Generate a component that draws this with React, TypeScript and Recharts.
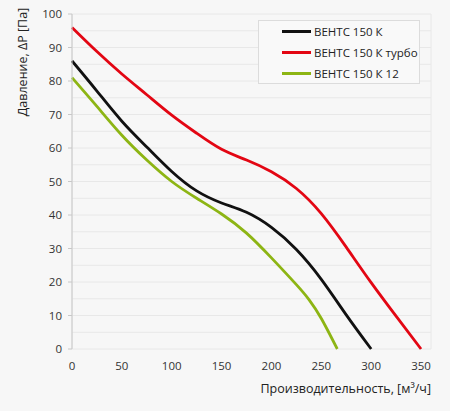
import React from 'react';
import { LineChart, Line, XAxis, YAxis, CartesianGrid, Legend } from 'recharts';

const blackQ = [0, 25, 50, 75, 100, 125, 150, 175, 200, 225, 250, 275, 300];
const blackP = [86, 77, 68, 60.3, 53, 47.2, 43.6, 40.8, 36.3, 29.7, 20.8, 10.2, 0];

const redQ = [0, 25, 50, 75, 100, 125, 150, 175, 200, 225, 250, 275, 300, 325, 350];
const redP = [96, 88.8, 82.1, 75.9, 69.8, 64.4, 59.6, 56.4, 52.9, 47.9, 40.4, 30.4, 19.8, 9.8, 0];

const greenQ = [0, 25, 50, 75, 100, 125, 150, 175, 200, 225, 238, 250, 266];
const greenP = [81, 72.4, 63.8, 56.4, 50, 45, 40.3, 34.6, 27.2, 19.2, 14.6, 9.1, 0];

const seriesNames = ['ВЕНТС 150 К', 'ВЕНТС 150 К турбо', 'ВЕНТС 150 К 12'];
const seriesColors = ['#111111', '#e30613', '#8db514'];

const X_MAX = 360;
const GRID_STEPS = 14;
const gridXTicks = Array.from({ length: GRID_STEPS + 1 }, (_, k) => (k * X_MAX) / GRID_STEPS);
const xLabels = [0, 50, 100, 150, 200, 250, 300, 350];
const yTicks = [0, 5, 10, 15, 20, 25, 30, 35, 40, 45, 50, 55, 60, 65, 70, 75, 80, 85, 90, 95, 100];
const yLabels = [0, 10, 20, 30, 40, 50, 60, 70, 80, 90, 100];

const xTitle = 'Производительность, [м³/ч]';
const yTitle = 'Давление, ΔP [Па]';

const toRows = (q: number[], p: number[]) => q.map((v, i) => ({ q: v, p: p[i] }));
const seriesData = [toRows(blackQ, blackP), toRows(redQ, redP), toRows(greenQ, greenP)];

const FONT = '"Open Sans", "Noto Sans", sans-serif';
const TICK_LEN = 4;
const Y_MARGIN = 6;
const AXIS_COLOR = '#c8c8c8';

const GridTick = (props: any) => {
  const { x, y, index } = props;
  if (index % 2 !== 0) return null;
  return <line x1={x} x2={x} y1={y} y2={y + TICK_LEN} stroke={AXIS_COLOR} />;
};

const XLabelTick = (props: any) => {
  const { x, y, payload } = props;
  return (
    <text x={x} y={y} dy="0.71em" textAnchor="middle" fontSize={11.5} fill="#333" fontFamily={FONT}>
      {payload.value}
    </text>
  );
};

const YTick = (props: any) => {
  const { x, y, payload } = props;
  if (!yLabels.includes(payload.value)) return null;
  const axisX = x + TICK_LEN + Y_MARGIN;
  return (
    <g>
      <line x1={axisX - TICK_LEN} x2={axisX} y1={y} y2={y} stroke={AXIS_COLOR} />
      <text x={x} y={y} dy="0.355em" textAnchor="end" fontSize={11.5} fill="#333" fontFamily={FONT}>
        {payload.value}
      </text>
    </g>
  );
};

const LegendBox = () => (
  <div
    style={{
      width: 162,
      height: 64,
      border: '1px solid #dcdcdc',
      background: '#f9f9f9',
      boxSizing: 'border-box',
      fontFamily: FONT,
      fontSize: 11.5,
      color: '#222',
      whiteSpace: 'nowrap',
    }}
  >
    {seriesNames.map((n, i) => (
      <div key={n} style={{ height: 21, display: 'flex', alignItems: 'center', paddingLeft: 23 }}>
        <span style={{ display: 'inline-block', width: 29, height: 3, background: seriesColors[i], marginRight: 3 }} />
        <span>{n}</span>
      </div>
    ))}
  </div>
);

export default function App() {
  return (
    <div style={{ position: 'absolute', left: 0, top: 0, width: 450, height: 411, background: '#f7f7f7' }}>
      <LineChart width={450} height={411} margin={{ top: 14, right: 19, bottom: 0, left: 0 }}>
        <CartesianGrid xAxisId={0} stroke="#e8e8e8" strokeWidth={1} />
        <XAxis
          xAxisId={0}
          type="number"
          domain={[0, X_MAX]}
          ticks={gridXTicks}
          interval={0}
          height={0}
          tickLine={false}
          tickSize={0}
          tickMargin={0}
          tick={<GridTick />}
          axisLine={{ stroke: AXIS_COLOR }}
        />
        <XAxis
          xAxisId={1}
          type="number"
          dataKey="q"
          domain={[0, X_MAX]}
          ticks={xLabels}
          interval={0}
          height={62}
          tickLine={false}
          axisLine={false}
          tickSize={0}
          tickMargin={13}
          tick={<XLabelTick />}
          label={{
            content: (lp: any) => {
              const vb = lp.viewBox;
              return (
                <text x={431} y={vb.y + 44} textAnchor="end" fontSize={12.5} fill="#222" fontFamily={FONT}>
                  {xTitle}
                </text>
              );
            },
          }}
        />
        <YAxis
          type="number"
          domain={[0, 100]}
          ticks={yTicks}
          interval={0}
          width={72}
          tickLine={false}
          tickSize={TICK_LEN}
          tickMargin={Y_MARGIN}
          tick={<YTick />}
          axisLine={{ stroke: AXIS_COLOR }}
          label={{
            content: (lp: any) => {
              const vb = lp.viewBox;
              const cx = vb.x + 27;
              const cy = 62;
              return (
                <text
                  x={cx}
                  y={cy}
                  transform={`rotate(-90, ${cx}, ${cy})`}
                  textAnchor="middle"
                  fontSize={12.5}
                  fill="#222"
                  fontFamily={FONT}
                >
                  {yTitle}
                </text>
              );
            },
          }}
        />
        <Legend
          layout="horizontal"
          verticalAlign="middle"
          align="center"
          content={() => <LegendBox />}
          wrapperStyle={{ position: 'absolute', left: 258, top: 20, width: 162, height: 64 }}
        />
        {seriesData.map((d, i) => (
          <Line
            key={seriesNames[i]}
            xAxisId={1}
            name={seriesNames[i]}
            data={d}
            dataKey="p"
            type="natural"
            stroke={seriesColors[i]}
            strokeWidth={2.8}
            dot={false}
            activeDot={false}
            isAnimationActive={false}
          />
        ))}
      </LineChart>
    </div>
  );
}
